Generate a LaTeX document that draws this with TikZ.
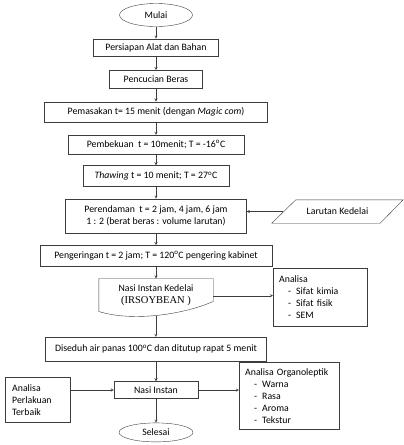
\documentclass[tikz,border=0pt]{standalone}
\usepackage{fontspec}
\setmainfont{Carlito}
\newfontfamily\timesfont{Liberation Serif}
\usepackage{xcolor}
\usepackage{tikz}
\usetikzlibrary{shapes,shapes.geometric,arrows,positioning,calc}
\definecolor{myline}{RGB}{60,60,60}
\newcommand{\butir}[1]{\hspace*{9pt}-\hspace*{5pt}#1}

\begin{document}
\begin{tikzpicture}[
    x=1pt, y=-1pt,
    font=\fontsize{9.8pt}{12pt}\selectfont,
    block/.style={rectangle, draw=myline, minimum height=#1, inner sep=2pt, align=center},
    startstop/.style={ellipse, draw=myline, inner sep=0pt},
    data/.style={rectangle, minimum width=108pt, minimum height=23pt, inner sep=0pt},
    note/.style={rectangle, draw=myline, align=left, inner sep=6pt, text width=#1},
    arrow/.style={->, >=stealth, thin, draw=myline},
]
    \useasboundingbox (0,0) rectangle (404,445);

    % Mulai
    \node[startstop, minimum width=73pt, minimum height=23pt] (mulai) at (156,15) {Mulai};

    % Proses utama
    \node[block=17pt, minimum width=125pt, below=12pt of mulai] (siap) {Persiapan Alat dan Bahan};
    \node[block=18pt, minimum width=93pt, below=14pt of siap] (cuci) {Pencucian Beras};
    \node[block=20pt, minimum width=223pt, below=13pt of cuci] (masak) {Pemasakan t= 15 menit (dengan \textit{Magic com})};
    \node[block=19pt, minimum width=176pt, below=13pt of masak] (beku) {Pembekuan\ \ t = 10menit; T = -16\textsuperscript{o}C};
    \node[block=21pt, minimum width=146pt, below=11pt of beku] (thaw) {\textit{Thawing} t = 10 menit; T = 27\textsuperscript{o}C};
    \node[block=34pt, minimum width=181pt, below=12pt of thaw] (rendam) {Perendaman\ \ t = 2 jam, 4 jam, 6 jam\\1 : 2 (berat beras : volume larutan)};
    \node[block=21pt, minimum width=232pt, below=12pt of rendam] (kering) {Pengeringan t = 2 jam; T = 120\textsuperscript{o}C pengering kabinet};

    % Produk (dokumen)
    \node[block=34pt, draw=none, minimum width=114pt, below=12pt of kering] (nasik) {Nasi Instan Kedelai\\{\timesfont\fontsize{10.5pt}{12pt}\selectfont (IRSOYBEAN )}};
    \draw[myline] (nasik.north west) -- (nasik.north east) -- ($(nasik.north east)+(0,23)$)
        .. controls ($(nasik.north west)+(82,37)$) and ($(nasik.north west)+(32,43)$) .. ($(nasik.north west)+(0,33)$)
        coordinate[pos=0.5] (nasikb) -- cycle;

    \node[block=24pt, minimum width=221pt, below=24pt of nasik] (seduh) {Diseduh air panas 100\textsuperscript{o}C dan ditutup rapat 5 menit};
    \node[block=17pt, minimum width=84pt, below=20pt of seduh] (instan) {Nasi Instan};

    % Selesai
    \node[startstop, minimum width=74pt, minimum height=19pt, below=24pt of instan] (selesai) {Selesai};

    % Side nodes
    \node[data] (larutan) at (337.5,211.5) {Larutan Kedelai};
    \draw[myline] ($(larutan.south west)+(-11.5,0)$) -- ($(larutan.north west)+(12.5,0)$)
        -- ($(larutan.north east)+(11.5,0)$) -- ($(larutan.south east)+(-11.5,0)$) -- cycle;
    \node[note=82pt, minimum height=58pt, anchor=north west] (analisa) at (273,268) {Analisa\\\butir{Sifat kimia}\\\butir{Sifat fisik}\\\butir{SEM}};
    \node[note=51pt, inner sep=7pt, minimum height=44pt, anchor=north west] (terbaik) at (5,377) {Analisa\\Perlakuan\\Terbaik};
    \node[note=88pt, minimum height=67pt, anchor=north west] (organo) at (239,362) {Analisa Organoleptik\\\butir{Warna}\\\butir{Rasa}\\\butir{Aroma}\\\butir{Tekstur}};

    % Arrows
    \draw[arrow] (mulai) -- (siap);
    \draw[arrow] (siap) -- (cuci);
    \draw[arrow] (cuci) -- (masak);
    \draw[arrow] (masak) -- (beku);
    \draw[arrow] (beku) -- (thaw);
    \draw[arrow] (thaw) -- (rendam);
    \draw[arrow] (rendam) -- (kering);
    \draw[arrow] (kering) -- (nasik);
    \draw[arrow] (nasikb) -- (nasikb |- seduh.north);
    \draw[arrow] (seduh) -- (instan);
    \draw[arrow] (instan) -- (selesai);
    \draw[arrow] (larutan.west) -- (larutan.west -| rendam.east);
    \draw[arrow] (nasik.east) -- (nasik.east -| analisa.west);
    \draw[arrow] (instan.west -| terbaik.east) -- (instan.west);
    \draw[arrow] (instan.east) -- (instan.east -| organo.west);
\end{tikzpicture}
\end{document}
